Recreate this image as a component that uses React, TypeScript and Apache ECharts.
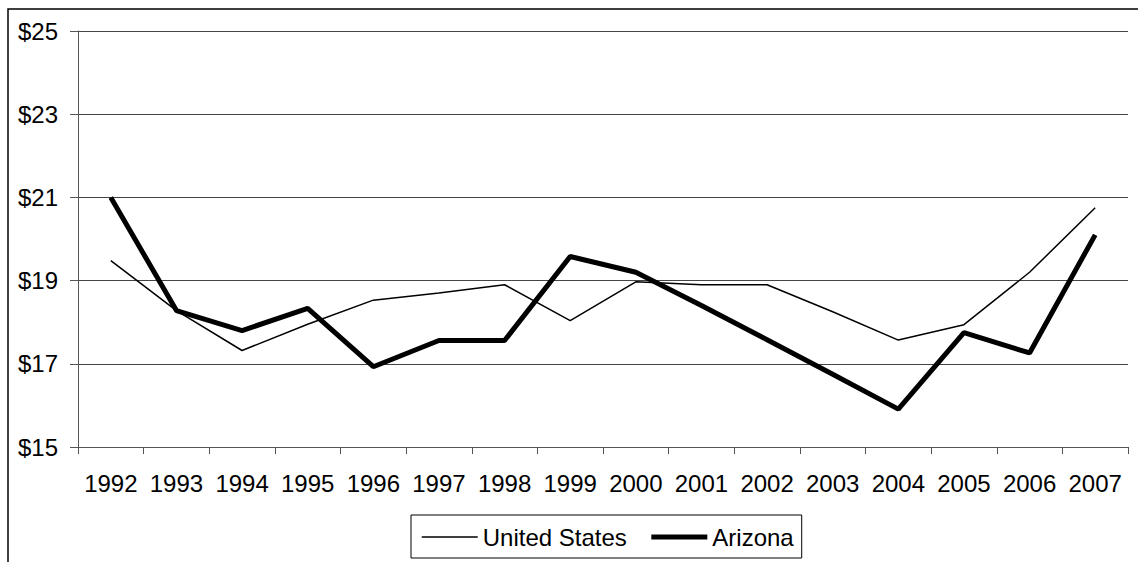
import React, { useEffect, useRef } from "react";
import * as echarts from "echarts";

const years = ["1992","1993","1994","1995","1996","1997","1998","1999","2000","2001","2002","2003","2004","2005","2006","2007"];
const unitedStates = [19.48, 18.28, 17.32, 17.95, 18.53, 18.7, 18.9, 18.04, 18.97, 18.9, 18.9, 18.25, 17.57, 17.94, 19.2, 20.75];
const arizona = [21.0, 18.28, 17.8, 18.33, 16.93, 17.56, 17.56, 19.58, 19.2, 18.4, 17.58, 16.75, 15.91, 17.75, 17.26, 20.1];
const yMin = 15;
const yMax = 25;
const yStep = 2;

export default function App() {
  const ref = useRef<HTMLDivElement>(null);
  useEffect(() => {
    if (!ref.current) return;
    const chart = echarts.init(ref.current, undefined, { renderer: "svg" });
    const font = "Liberation Sans, Arial, sans-serif";
    chart.setOption({
      animation: false,
      backgroundColor: "#ffffff",
      textStyle: { fontFamily: font },
      graphic: [
        {
          type: "rect",
          shape: { x: 8, y: 9, width: 1200, height: 600 },
          style: { fill: "none", stroke: "#000", lineWidth: 1.5 },
          silent: true,
        },
      ],
      grid: { left: 78, right: 10, top: 31, bottom: 115, containLabel: false },
      legend: {
        left: 411,
        top: 515,
        orient: "horizontal",
        padding: [10, 8, 9, 10],
        borderColor: "#000",
        borderWidth: 1,
        itemWidth: 56,
        itemHeight: 24,
        itemGap: 22,
        itemStyle: { opacity: 0 },
        textStyle: { fontSize: 24, color: "#000", fontFamily: font },
        data: [
          { name: "United States", lineStyle: { width: 1.5, color: "#000" } },
          { name: "Arizona", lineStyle: { width: 5, color: "#000" } },
        ],
      },
      xAxis: {
        type: "category",
        data: years,
        boundaryGap: true,
        axisLine: { lineStyle: { color: "#555", width: 1 } },
        axisTick: { show: true, length: 7, inside: false, lineStyle: { color: "#555" } },
        axisLabel: { fontSize: 24, color: "#000", margin: 24, fontFamily: font, interval: 0 },
        splitLine: { show: false },
      },
      yAxis: {
        type: "value",
        min: yMin,
        max: yMax,
        interval: yStep,
        axisLine: { show: true, lineStyle: { color: "#555", width: 1 } },
        axisTick: { show: true, length: 8, lineStyle: { color: "#555" } },
        axisLabel: { fontSize: 24, color: "#000", margin: 20, fontFamily: font, formatter: (v: number) => "$" + v },
        splitLine: { show: true, lineStyle: { color: "#444", width: 1 } },
      },
      series: [
        {
          name: "United States",
          type: "line",
          data: unitedStates,
          symbol: "none",
          lineStyle: { color: "#000", width: 1.5 },
          itemStyle: { color: "#000" },
        },
        {
          name: "Arizona",
          type: "line",
          data: arizona,
          symbol: "none",
          lineStyle: { color: "#000", width: 5 },
          itemStyle: { color: "#000" },
        },
      ],
    });
    return () => chart.dispose();
  }, []);
  return <div ref={ref} style={{ position: "fixed", left: 0, top: 0, width: 1138, height: 562 }} />;
}
